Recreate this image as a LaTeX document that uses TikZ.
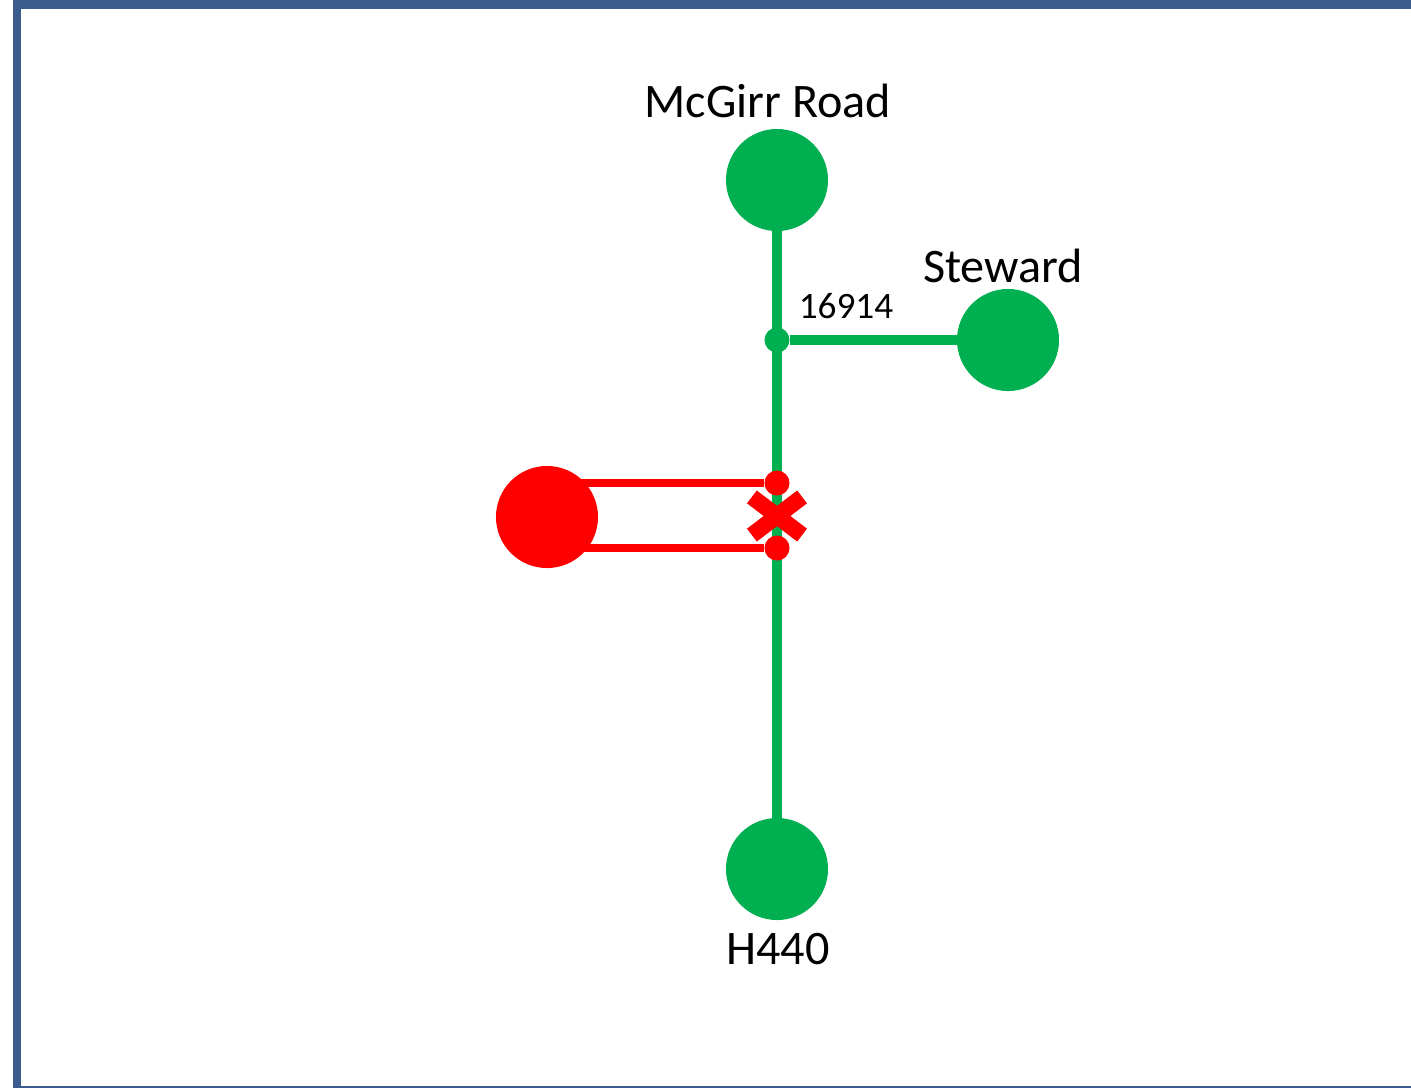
\documentclass[tikz,border=0pt]{standalone}
\usepackage{fontspec}
\setmainfont{Carlito}
\usetikzlibrary{shapes.misc}
\definecolor{roadgreen}{HTML}{00B050}
\definecolor{cutred}{HTML}{FF0000}
\definecolor{framecol}{HTML}{3A5C8C}
\tikzset{
  bigstop/.style={circle, inner sep=0pt, outer sep=0pt, minimum size=1.02cm},
  smalldot/.style={circle, inner sep=0pt, outer sep=0pt, minimum size=0.25cm},
  bigname/.style={font=\fontsize{13.7}{16}\selectfont, inner sep=0pt},
  smallname/.style={font=\fontsize{10.6}{13}\selectfont, inner sep=0pt}
}
\begin{document}
\begin{tikzpicture}[x=0.01cm, y=-0.01cm, line width=1pt]
            \useasboundingbox (0,0) rectangle (1411,1087);

            %%%%%%%%
            % frame
            %%%%%%%%
            \draw[framecol, line width=2.3pt] (1440,4.5) -- (17,4.5) -- (17,1090) -- (1440,1090);

            %%%%%%%%
            % green road
            %%%%%%%%

            % stations
            \node[bigstop, fill=roadgreen] (mcgirr) at (777,180) {};
            \node[bigstop, fill=roadgreen] (steward) at (1008,340) {};
            \node[bigstop, fill=roadgreen] (h440) at (777,869) {};
            \node[smalldot, fill=roadgreen] (j16914) at (777,340) {};

            % lines
            \draw[roadgreen, line width=2.6pt] (mcgirr) -- (h440);
            \draw[roadgreen, line width=2.6pt] (j16914) -- (steward);

            % names
            \node[bigname] (mcgirrlbl) at (768,101) {McGirr Road};
            \node[bigname] (stewardlbl) at (1003,266) {Steward};
            \node[bigname] (h440lbl) at (778,949) {H440};
            \node[smallname] (j16914lbl) at (846,306) {16914};

            %%%%%%%%
            % red detour
            %%%%%%%%

            \node[bigstop, fill=cutred] (detour) at (547,517) {};
            \node[smalldot, fill=cutred] (topdot) at (777,483) {};
            \node[smalldot, fill=cutred] (botdot) at (777,548) {};
            \draw[cutred, line width=2pt] (detour.center |- topdot) -- (topdot);
            \draw[cutred, line width=2pt] (detour.center |- botdot) -- (botdot);

            % closed section
            \node[cross out, draw=cutred, line width=4.6pt, inner sep=0pt, minimum width=0.34cm, minimum height=0.22cm] (cut) at (777,516) {};
        \end{tikzpicture}
\end{document}
